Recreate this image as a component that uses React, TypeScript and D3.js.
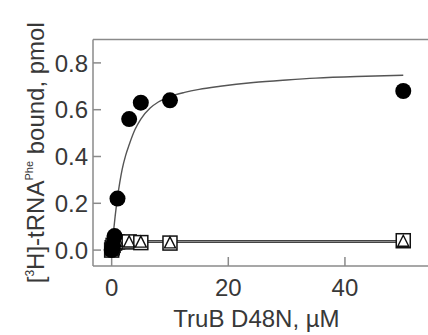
import React from "react";
import * as d3 from "d3";

const W = 428;
const H = 335;

// Filled circles (wild-type-like binding)
const circleX = [0, 0.1, 0.25, 0.5, 1, 3, 5, 10, 50];
const circleY = [0, 0.005, 0.02, 0.06, 0.22, 0.56, 0.63, 0.64, 0.68];

// Open squares
const squareX = [0, 0.1, 0.25, 0.5, 1, 3, 5, 10, 50];
const squareY = [0, 0.01, 0.02, 0.03, 0.035, 0.035, 0.032, 0.03, 0.04];

// Open triangles
const triX = [0, 0.1, 0.25, 0.5, 1, 3, 5, 10, 50];
const triY = [0, 0.01, 0.02, 0.03, 0.04, 0.037, 0.036, 0.033, 0.04];

// Fit curve
const fitX = [0, 0.3, 0.6, 1.0, 1.4, 1.8, 2.4, 3, 4, 5, 6.6, 8, 10, 12.5, 15, 18.6, 24.3, 30, 35, 42, 50];
const fitY = [0, 0.075, 0.145, 0.225, 0.29, 0.345, 0.405, 0.45, 0.515, 0.56, 0.607, 0.633, 0.656, 0.674, 0.687, 0.7, 0.716, 0.727, 0.735, 0.742, 0.747];

// Flat fits for squares / triangles
const flatX = [0, 50];
const flatSquareY = [0.033, 0.033];
const flatTriY = [0.04, 0.04];

const xTicks = [0, 20, 40];
const yTicks = [0, 0.2, 0.4, 0.6, 0.8];

export default function App() {
  const left = 93;
  const right = 440;
  const top = 39.5;
  const bottom = 266;
  const x = d3.scaleLinear().domain([-3.2, 56.3]).range([left, right]);
  const y = d3.scaleLinear().domain([-0.068, 0.9]).range([bottom, top]);

  const line = d3
    .line<[number, number]>()
    .x((d) => x(d[0]))
    .y((d) => y(d[1]))
    .curve(d3.curveMonotoneX);

  const fitPath = line(fitX.map((v, i) => [v, fitY[i]]) as [number, number][]) || "";
  const flatSqPath = line(flatX.map((v, i) => [v, flatSquareY[i]]) as [number, number][]) || "";
  const flatTriPath = line(flatX.map((v, i) => [v, flatTriY[i]]) as [number, number][]) || "";

  const axisColor = "#8a8a8a";
  const textColor = "#383838";
  const font = "'Liberation Sans', Arial, sans-serif";
  const sq = 14;
  const r = 8;

  return (
    <svg
      width={W}
      height={H}
      style={{ position: "absolute", left: 0, top: 0, background: "#fff" }}
      fontFamily={font}
    >
      <rect x={0} y={0} width={W} height={H} fill="#fff" />
      {/* frame */}
      <line x1={left} x2={W} y1={top} y2={top} stroke={axisColor} strokeWidth={1.5} />
      <line x1={left} x2={W} y1={bottom} y2={bottom} stroke={axisColor} strokeWidth={1.5} />
      <line x1={left} x2={left} y1={top} y2={bottom} stroke={axisColor} strokeWidth={1.5} />

      {/* y ticks */}
      {yTicks.map((t) => (
        <g key={"y" + t}>
          <line x1={left} x2={left + 8} y1={y(t)} y2={y(t)} stroke={axisColor} strokeWidth={1.5} />
          <text
            x={88}
            y={y(t)}
            dy="0.36em"
            textAnchor="end"
            fontSize={24}
            fill={textColor}
          >
            {d3.format(".1f")(t)}
          </text>
        </g>
      ))}

      {/* x ticks */}
      {xTicks.map((t) => (
        <g key={"x" + t}>
          <line x1={x(t)} x2={x(t)} y1={bottom} y2={bottom - 9} stroke={axisColor} strokeWidth={1.5} />
          <text x={x(t)} y={296} textAnchor="middle" fontSize={24} fill={textColor}>
            {t}
          </text>
        </g>
      ))}

      {/* axis titles */}
      <text x={(x(0) + x(50)) / 2 - 1} y={327} textAnchor="middle" fontSize={24} fill={textColor}>
        TruB D48N, µM
      </text>
      <text
        transform={`translate(44, ${(top + bottom) / 2}) rotate(-90)`}
        textAnchor="middle"
        fontSize={24}
        fill={textColor}
      >
        <tspan>[</tspan>
        <tspan fontSize={12} dy="-10">3</tspan>
        <tspan dy="10">H]-tRNA</tspan>
        <tspan fontSize={11} dy="-11">Phe</tspan>
        <tspan dy="11"> bound, pmol</tspan>
      </text>

      {/* flat fits */}
      <path d={flatSqPath} fill="none" stroke="#444" strokeWidth={1.3} />
      <path d={flatTriPath} fill="none" stroke="#444" strokeWidth={1.3} />
      {/* hyperbolic fit */}
      <path d={fitPath} fill="none" stroke="#555" strokeWidth={1.4} />

      {/* squares */}
      {squareX.map((v, i) => (
        <rect
          key={"s" + i}
          x={x(v) - sq / 2}
          y={y(squareY[i]) - sq / 2}
          width={sq}
          height={sq}
          fill="#fff"
          stroke="#111"
          strokeWidth={1.5}
        />
      ))}
      {/* triangles */}
      {triX.map((v, i) => {
        const cx = x(v);
        const cy = y(triY[i]);
        const h = sq - 3;
        return (
          <path
            key={"t" + i}
            d={`M${cx},${cy - h / 2} L${cx + h / 2},${cy + h / 2} L${cx - h / 2},${cy + h / 2} Z`}
            fill="none"
            stroke="#111"
            strokeWidth={1.4}
          />
        );
      })}
      {/* circles */}
      {circleX.map((v, i) => (
        <circle key={"c" + i} cx={x(v)} cy={y(circleY[i])} r={r} fill="#000" />
      ))}
    </svg>
  );
}
